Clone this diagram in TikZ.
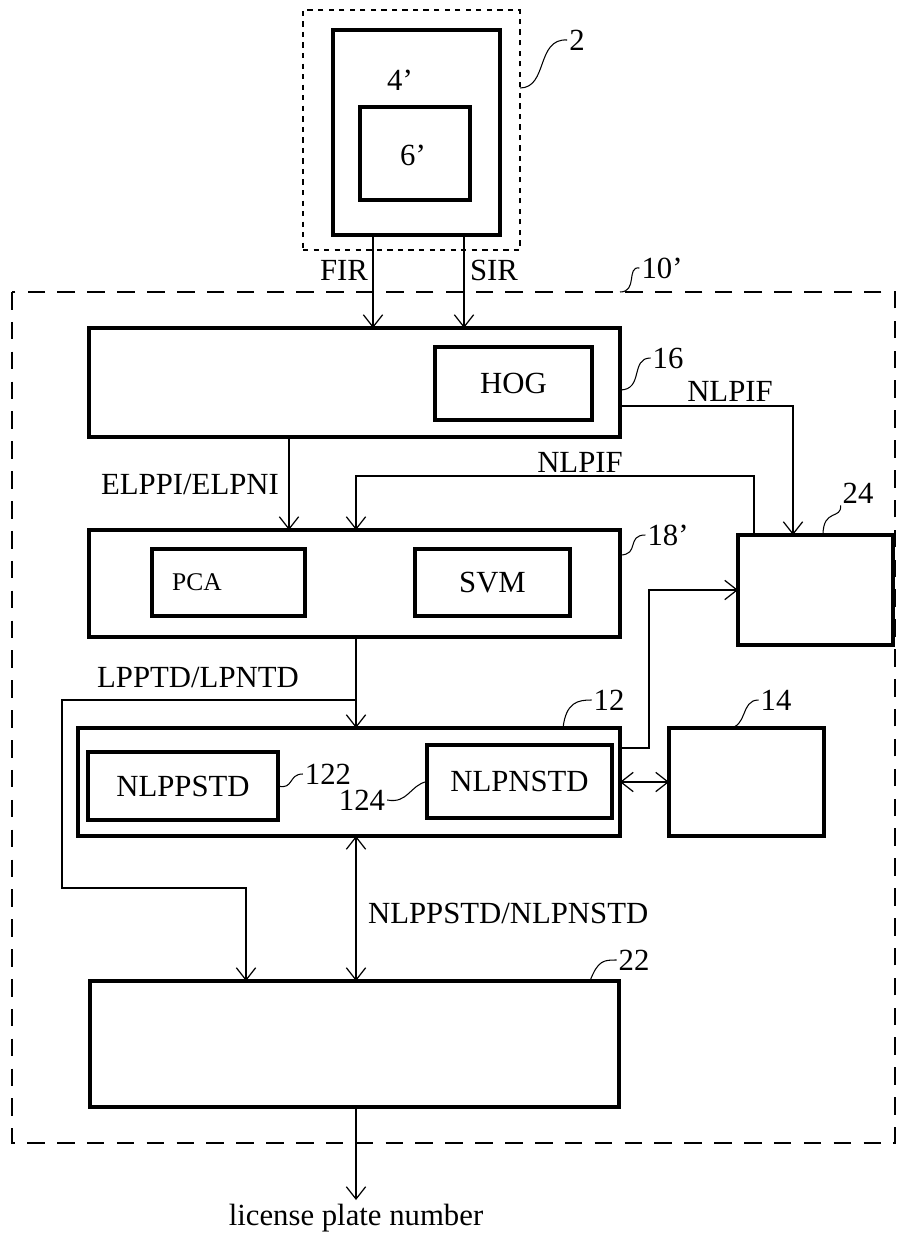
\documentclass[tikz,border=0pt]{standalone}
\usepackage{fontspec}
\setmainfont{Liberation Serif}
\usetikzlibrary{arrows.meta,positioning,calc}

\begin{document}
\begin{tikzpicture}[x=0.02cm, y=-0.02cm,
    block/.style={rectangle, draw=black, line width=1.8pt, inner sep=0pt, outer sep=0pt, font=\fontsize{17.5}{20}\selectfont},
    arrow/.style={-{Straight Barb[length=7pt,width=11pt]}, line width=0.7pt},
    dblarrow/.style={{Straight Barb[length=7pt,width=11pt]}-{Straight Barb[length=7pt,width=11pt]}, line width=0.7pt},
    lead/.style={line width=0.6pt},
    txt/.style={font=\fontsize{17.5}{20}\selectfont, inner sep=1pt}
]
\useasboundingbox (0,0) rectangle (910,1236);

% Camera side
\node[rectangle, draw, dashed, line width=0.6pt, dash pattern=on 3pt off 3pt, minimum width=4.34cm, minimum height=4.80cm, outer sep=0pt] (box2) at (411.5,130) {};
\node[block, minimum width=3.34cm, minimum height=4.10cm] (box4) at (416.5,132.5) {};
\node[block, minimum width=2.20cm, minimum height=1.86cm] (box6) at (415,153.5) {};
\node[txt] (lab4) at (400,80) {4'};
\node[txt] (lab6) at (413,155) {6'};
\node[txt] (lab2) at (577,40) {2};

% System boundary
\draw[line width=1.5pt, dash pattern=on 10pt off 7pt] (12,292) rectangle (895,1143);
\coordinate (box10) at (620,292);
\node[txt] (lab10) at (662,268) {10'};

% Blocks
\node[block, minimum width=10.62cm, minimum height=2.18cm] (box16) at (354.5,382.5) {};
\node[block, minimum width=3.14cm, minimum height=1.46cm] (hog) at (513.5,383.5) {HOG};
\node[block, minimum width=10.62cm, minimum height=2.14cm] (box18) at (354.5,583.5) {};
\node[block, minimum width=3.06cm, minimum height=1.34cm] (pca) at (228.5,582.5) {};
\node[txt, font=\fontsize{14.5}{17}\selectfont] (pcatxt) at (197,582) {PCA};
\node[block, minimum width=3.10cm, minimum height=1.34cm] (svm) at (492.5,582.5) {SVM};
\node[block, minimum width=3.10cm, minimum height=2.20cm] (box24) at (815.5,590) {};
\node[block, minimum width=10.84cm, minimum height=2.16cm] (box12) at (349,782) {};
\node[block, minimum width=3.80cm, minimum height=1.36cm] (nlppstd) at (183,786) {NLPPSTD};
\node[block, minimum width=3.70cm, minimum height=1.46cm] (nlpnstd) at (519.5,781.5) {NLPNSTD};
\node[block, minimum width=3.10cm, minimum height=2.16cm] (box14) at (746.5,782) {};
\node[block, minimum width=10.58cm, minimum height=2.52cm] (box22) at (354.5,1044) {};

% Reference numerals
\node[txt] (lab16) at (668,358) {16};
\node[txt] (lab18) at (668,535) {18'};
\node[txt] (lab24) at (858,493) {24};
\node[txt] (lab12) at (609,700) {12};
\node[txt] (lab14) at (776,700) {14};
\node[txt] (lab122) at (328,774) {122};
\node[txt] (lab124) at (362,800) {124};
\node[txt] (lab22) at (634,960) {22};

\draw[lead] (box2.east |- 0,88) .. controls (548,88) and (536,38) .. (lab2.west);
\draw[lead] (box10) .. controls (638,292) and (626,266) .. (lab10.west);
\draw[lead] (box16.east |- 0,390) .. controls (644,390) and (630,358) .. (lab16.west);
\draw[lead] (box18.east |- 0,555) .. controls (640,555) and (626,535) .. (lab18.west);
\draw[lead] (823,535) .. controls (823,508) and (842,520) .. (lab24.south west);
\draw[lead] (563,728) .. controls (566,702) and (578,700) .. (lab12.west);
\draw[lead] (728,728) .. controls (748,728) and (740,700) .. (lab14.west);
\draw[lead] (nlppstd.east) .. controls (294,790) and (288,774) .. (lab122.west);
\draw[lead] (nlpnstd.west) .. controls (410,785) and (408,804) .. (lab124.east);
\draw[lead] (590,981) .. controls (598,960) and (604,960) .. (lab22.west);

% Columns and rows of the connectors
\coordinate (firx) at (373,0);
\coordinate (sirx) at (464,0);
\coordinate (elppix) at (289,0);
\coordinate (midx) at (356,0);
\coordinate (nlpifax) at (793,0);
\coordinate (nlpifay) at (0,406);
\coordinate (nlpifbx) at (754,0);
\coordinate (nlpifby) at (0,476);
\coordinate (lpptdx) at (62,0);
\coordinate (lpptdy) at (0,700);
\coordinate (lpptdz) at (0,888);
\coordinate (lpptdw) at (246,0);
\coordinate (loopx) at (649,0);
\coordinate (loopay) at (0,748);
\coordinate (loopby) at (0,590);
\coordinate (plate) at (356,1200);

% Connections
\draw[arrow] (firx |- box4.south) -- (firx |- box16.north);
\draw[arrow] (sirx |- box4.south) -- (sirx |- box16.north);
\node[txt] (firtxt) at (344,270) {FIR};
\node[txt] (sirtxt) at (494,270) {SIR};

\draw[arrow] (box16.east |- nlpifay) -| (nlpifax |- box24.north);
\node[txt] (nlpifa) at (730,391) {NLPIF};

\draw[arrow] (nlpifbx |- box24.north) |- (midx |- nlpifby) -- (midx |- box18.north);
\node[txt] (nlpifb) at (580,462) {NLPIF};

\draw[arrow] (elppix |- box16.south) -- (elppix |- box18.north);
\node[txt] (elppi) at (190,485) {ELPPI/ELPNI};

\draw[arrow] (midx |- box18.south) -- (midx |- box12.north);
\draw[arrow] (midx |- lpptdy) -| (lpptdx |- lpptdz) -| (lpptdw |- box22.north);
\node[txt] (lpptd) at (198,678) {LPPTD/LPNTD};

\draw[arrow] (box12.east |- loopay) -| (loopx |- loopby) -- (box24.west |- loopby);
\draw[dblarrow] (box12.east |- box14.west) -- (box14.west);

\draw[dblarrow] (midx |- box12.south) -- (midx |- box22.north);
\node[txt, anchor=west] (nlpstd) at (366,913) {NLPPSTD/NLPNSTD};

\draw[arrow] (midx |- box22.south) -- (plate);
\node[txt] (platetxt) at (356,1218) {license plate number};

\end{tikzpicture}
\end{document}
